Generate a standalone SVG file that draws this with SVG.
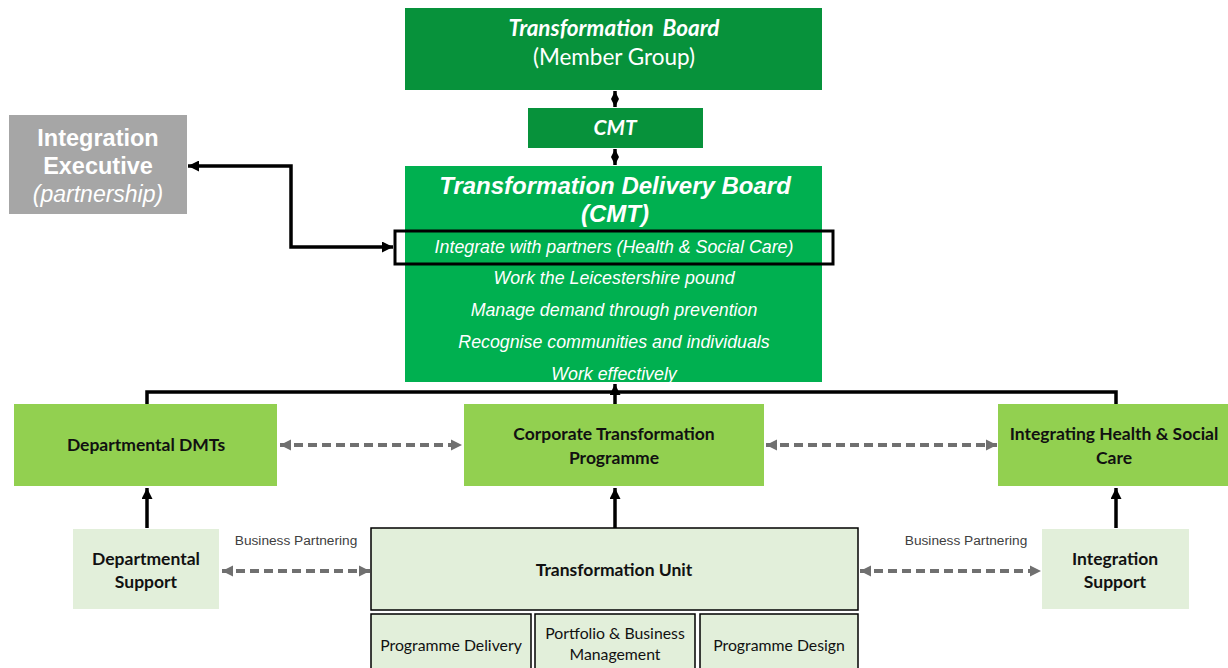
<svg xmlns="http://www.w3.org/2000/svg" width="1228" height="668" viewBox="0 0 1228 668">
<style>
.cal{font-family:Lato,"Open Sans","Liberation Sans",sans-serif}
.ar{font-family:"Liberation Sans",Arial,sans-serif}
.w{fill:#fff}
.b{fill:#111}
.solid{fill:none;stroke:#000;stroke-width:3.5}
.dash{fill:none;stroke:#707070;stroke-width:4;stroke-dasharray:9 5}
</style>
<defs>
<marker id="ah" viewBox="0 0 10 10" refX="10" refY="5" markerWidth="11" markerHeight="11" markerUnits="userSpaceOnUse" orient="auto-start-reverse"><path d="M0,0 L10,5 L0,10 Z" fill="#000"/></marker>
<marker id="sh" viewBox="0 0 10 10" refX="10" refY="5" markerWidth="8" markerHeight="12" markerUnits="userSpaceOnUse" orient="auto-start-reverse"><path d="M0,0 L10,5 L0,10 Z" fill="#000"/></marker>
<marker id="gh" viewBox="0 0 10 10" refX="10" refY="5" markerWidth="11" markerHeight="12" markerUnits="userSpaceOnUse" orient="auto-start-reverse"><path d="M0,0 L10,5 L0,10 Z" fill="#707070"/></marker>
</defs>

<g id="connectors">
<line class="solid" x1="615" y1="91" x2="615" y2="107" stroke-width="3" marker-start="url(#sh)" marker-end="url(#sh)"/>
<line class="solid" x1="615" y1="149" x2="615" y2="165" stroke-width="3" marker-start="url(#sh)" marker-end="url(#sh)"/>
<polyline class="solid" points="188,166 291,166 291,247 393,247" marker-start="url(#ah)" marker-end="url(#ah)"/>
<polyline class="solid" points="147,404 147,392 1116,392 1116,404"/>
<line class="solid" x1="615" y1="404" x2="615" y2="384" marker-end="url(#ah)"/>
<line class="solid" x1="147" y1="528" x2="147" y2="488" marker-end="url(#ah)"/>
<line class="solid" x1="615" y1="528" x2="615" y2="488" marker-end="url(#ah)"/>
<line class="solid" x1="1116" y1="528" x2="1116" y2="488" marker-end="url(#ah)"/>
<line class="dash" x1="280" y1="445" x2="462" y2="445" marker-start="url(#gh)" marker-end="url(#gh)"/>
<line class="dash" x1="766" y1="445" x2="997" y2="445" marker-start="url(#gh)" marker-end="url(#gh)"/>
<line class="dash" x1="222" y1="571" x2="370" y2="571" marker-start="url(#gh)" marker-end="url(#gh)"/>
<line class="dash" x1="860" y1="571" x2="1041" y2="571" marker-start="url(#gh)" marker-end="url(#gh)"/>
<text class="ar" x="296" y="545" font-size="13.7" fill="#404040" text-anchor="middle">Business Partnering</text>
<text class="ar" x="966" y="545" font-size="13.7" fill="#404040" text-anchor="middle">Business Partnering</text>
</g>

<g id="transformation-board">
<rect x="405" y="8" width="417" height="82" fill="#07923B"/>
<text class="cal w" x="614" y="36" font-size="22.5" font-weight="bold" font-style="italic" text-anchor="middle" word-spacing="4">Transformation Board</text>
<text class="cal w" x="614" y="65" font-size="22.5" text-anchor="middle">(Member Group)</text>
</g>

<g id="cmt">
<rect x="528" y="108" width="175" height="40" fill="#07923B"/>
<text class="cal w" x="615" y="135" font-size="21" font-weight="bold" font-style="italic" text-anchor="middle">CMT</text>
</g>

<g id="integration-executive">
<rect x="9" y="115" width="178" height="99" fill="#A6A6A6"/>
<text class="ar w" x="98" y="146" font-size="23.5" font-weight="bold" text-anchor="middle">Integration</text>
<text class="ar w" x="98" y="174" font-size="23.5" font-weight="bold" text-anchor="middle">Executive</text>
<text class="ar w" x="98" y="202" font-size="23" font-style="italic" text-anchor="middle">(partnership)</text>
</g>

<g id="transformation-delivery-board">
<rect x="405" y="166" width="417" height="216" fill="#00B050"/>
<text class="ar w" x="615" y="194" font-size="24" font-weight="bold" font-style="italic" text-anchor="middle">Transformation Delivery Board</text>
<text class="ar w" x="615" y="222" font-size="24" font-weight="bold" font-style="italic" text-anchor="middle">(CMT)</text>
<rect x="395" y="231" width="438" height="33" fill="none" stroke="#000" stroke-width="3"/>
<text class="ar w" x="614" y="253" font-size="17.8" font-style="italic" text-anchor="middle">Integrate with partners (Health &amp; Social Care)</text>
<text class="ar w" x="614" y="284" font-size="17.8" font-style="italic" text-anchor="middle">Work the Leicestershire pound</text>
<text class="ar w" x="614" y="316" font-size="17.8" font-style="italic" text-anchor="middle">Manage demand through prevention</text>
<text class="ar w" x="614" y="348" font-size="17.8" font-style="italic" text-anchor="middle">Recognise communities and individuals</text>
<text class="ar w" x="614" y="380" font-size="17.8" font-style="italic" text-anchor="middle">Work effectively</text>
</g>

<g id="departmental-dmts">
<rect x="14" y="404" width="263" height="82" fill="#92D050"/>
<text class="cal b" x="146" y="451" font-size="17.5" font-weight="bold" text-anchor="middle">Departmental DMTs</text>
</g>

<g id="corporate-transformation-programme">
<rect x="464" y="404" width="300" height="82" fill="#92D050"/>
<text class="cal b" x="614" y="440" font-size="17.5" font-weight="bold" text-anchor="middle">Corporate Transformation</text>
<text class="cal b" x="614" y="464" font-size="17.5" font-weight="bold" text-anchor="middle">Programme</text>
</g>

<g id="integrating-health-social-care">
<rect x="998" y="404" width="232" height="82" fill="#92D050"/>
<text class="cal b" x="1114" y="440" font-size="17.5" font-weight="bold" text-anchor="middle">Integrating Health &amp; Social</text>
<text class="cal b" x="1114" y="464" font-size="17.5" font-weight="bold" text-anchor="middle">Care</text>
</g>

<g id="departmental-support">
<rect x="73" y="529" width="146" height="80" fill="#E2EFDA"/>
<text class="cal b" x="146" y="565" font-size="17.5" font-weight="bold" text-anchor="middle">Departmental</text>
<text class="cal b" x="146" y="588" font-size="17.5" font-weight="bold" text-anchor="middle">Support</text>
</g>

<g id="transformation-unit">
<rect x="371" y="528" width="487" height="82" fill="#E2EFDA" stroke="#000" stroke-width="1.5"/>
<text class="cal b" x="614" y="576" font-size="17.5" font-weight="bold" text-anchor="middle">Transformation Unit</text>
</g>

<g id="programme-delivery">
<rect x="371" y="614" width="160" height="60" fill="#E2EFDA" stroke="#000" stroke-width="1.5"/>
<text class="cal b" x="451" y="651" font-size="15.8" text-anchor="middle">Programme Delivery</text>
</g>

<g id="portfolio-business-management">
<rect x="535" y="614" width="160" height="60" fill="#E2EFDA" stroke="#000" stroke-width="1.5"/>
<text class="cal b" x="615" y="639" font-size="15.8" text-anchor="middle">Portfolio &amp; Business</text>
<text class="cal b" x="615" y="660" font-size="15.8" text-anchor="middle">Management</text>
</g>

<g id="programme-design">
<rect x="700" y="614" width="158" height="60" fill="#E2EFDA" stroke="#000" stroke-width="1.5"/>
<text class="cal b" x="779" y="651" font-size="15.8" text-anchor="middle">Programme Design</text>
</g>

<g id="integration-support">
<rect x="1042" y="529" width="147" height="80" fill="#E2EFDA"/>
<text class="cal b" x="1115" y="565" font-size="17.5" font-weight="bold" text-anchor="middle">Integration</text>
<text class="cal b" x="1115" y="588" font-size="17.5" font-weight="bold" text-anchor="middle">Support</text>
</g>
</svg>
